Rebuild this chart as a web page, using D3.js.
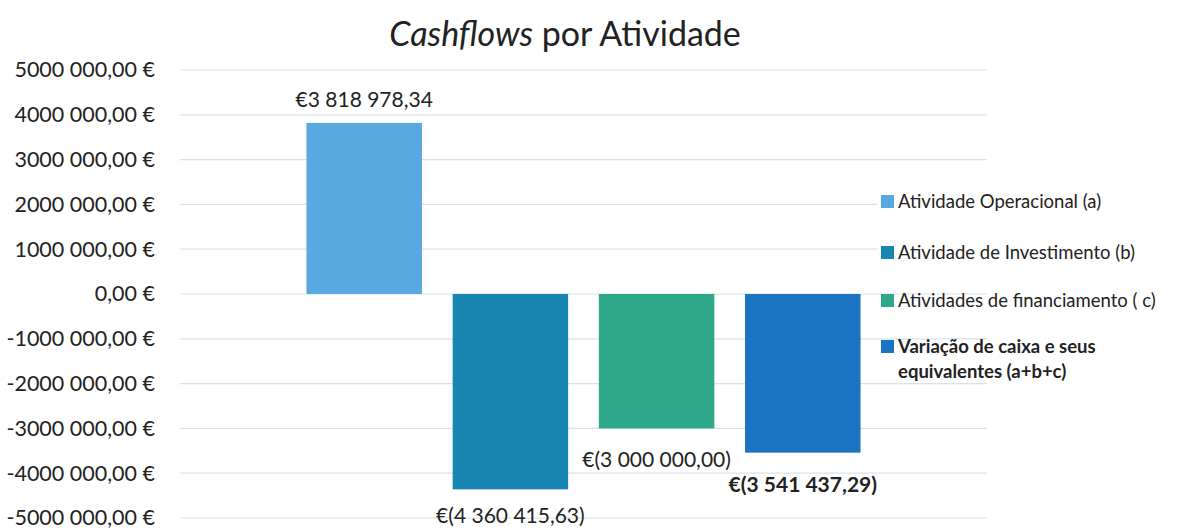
<!DOCTYPE html>
<html>
<head>
<meta charset="utf-8">
<script src="https://cdn.jsdelivr.net/npm/d3@7"></script>
<style>
  body { margin: 0; background: #fff; }
  text { font-family: Lato, "Open Sans", sans-serif; fill: #222; }
</style>
</head>
<body>
<svg id="grafico"></svg>
<script>
// dados do gráfico
const categorias = ["Cashflows"];
const series = [
  "Atividade Operacional (a)",
  "Atividade de Investimento (b)",
  "Atividades de financiamento ( c)",
  "Variação de caixa e seus equivalentes (a+b+c)"
];
const valores = [3818978.34, -4360415.63, -3000000.00, -3541437.29];
const cores = ["#58a9e1", "#1786b2", "#2ea88b", "#1a74c1"];
const ticksY = [5000000, 4000000, 3000000, 2000000, 1000000, 0, -1000000, -2000000, -3000000, -4000000, -5000000];
const rotulosY = ["5000 000,00 €", "4000 000,00 €", "3000 000,00 €", "2000 000,00 €", "1000 000,00 €", "0,00 €",
  "-1000 000,00 €", "-2000 000,00 €", "-3000 000,00 €", "-4000 000,00 €", "-5000 000,00 €"];

const largura = 1178, altura = 530;
const svg = d3.select("#grafico").attr("width", largura).attr("height", altura);

const esq = 180, dir = 987, topo = 70, base = 518;

let fnY = d3.scaleLinear().domain([-5000000, 5000000]).range([base, topo]);
let fnX0 = d3.scaleBand().domain(categorias).range([esq, dir]).paddingInner(0).paddingOuter(0.19);
let fnX1 = d3.scaleBand().domain(series).range([0, fnX0.bandwidth()]).paddingInner(0.21).paddingOuter(0.105);

const loc = d3.formatLocale({ decimal: ",", thousands: " ", grouping: [3], currency: ["€", ""] });
const fmt = loc.format(",.2f");
const rotulo = v => v < 0 ? "€(" + fmt(-v) + ")" : "€" + fmt(v);

// título
const titulo = svg.append("text")
  .attr("x", 565).attr("y", 46)
  .attr("text-anchor", "middle")
  .style("font-size", "34px");
titulo.append("tspan").style("font-style", "italic").text("Cashflows");
titulo.append("tspan").text(" por Atividade");

// grelha
svg.append("g").selectAll("line")
  .data(ticksY)
  .enter()
  .append("line")
  .attr("x1", esq).attr("x2", dir)
  .attr("y1", d => fnY(d)).attr("y2", d => fnY(d))
  .attr("stroke", "#d4e3ee").attr("stroke-width", 1.2);

// eixo Y
const eixoY = svg.append("g")
  .attr("transform", `translate(${esq - 22},0)`)
  .call(d3.axisLeft(fnY).tickValues(ticksY).tickSize(0).tickFormat((d, i) => rotulosY[i]));
eixoY.select(".domain").remove();
eixoY.selectAll("text").style("font-size", "21.5px").style("font-family", "Lato, sans-serif").attr("fill", "#222");

// barras
const grupo = svg.append("g").attr("transform", `translate(${fnX0(categorias[0])},0)`);
grupo.selectAll(".barras")
  .data(valores)
  .enter()
  .append("rect")
  .classed("barras", true)
  .attr("x", (d, i) => fnX1(series[i]))
  .attr("y", d => fnY(Math.max(0, d)))
  .attr("width", fnX1.bandwidth())
  .attr("height", d => Math.abs(fnY(d) - fnY(0)))
  .attr("fill", (d, i) => cores[i]);

grupo.selectAll(".rotulo")
  .data(valores)
  .enter()
  .append("text")
  .classed("rotulo", true)
  .text(d => rotulo(d))
  .attr("x", (d, i) => fnX1(series[i]) + fnX1.bandwidth() / 2)
  .attr("y", d => d >= 0 ? fnY(d) - 16 : Math.min(fnY(d) + 39, altura - 7))
  .attr("text-anchor", "middle")
  .style("font-size", "21px")
  .style("font-weight", (d, i) => i === 3 ? "bold" : "normal");

// legenda
svg.append("rect").attr("x", 877).attr("y", 178).attr("width", 301).attr("height", 105).attr("fill", "#fff");
const legendaY = [201, 252, 300, 346];
const leg = svg.append("g").selectAll("g")
  .data(series)
  .enter()
  .append("g")
  .attr("transform", (d, i) => `translate(881,${legendaY[i]})`);
leg.append("rect")
  .attr("x", 0).attr("y", -6).attr("width", 13).attr("height", 13)
  .attr("fill", (d, i) => cores[i]);
leg.append("text")
  .attr("x", 17).attr("y", 7)
  .style("font-size", "18.5px")
  .style("font-weight", (d, i) => i === 3 ? "bold" : "normal")
  .each(function (d, i) {
    const t = d3.select(this);
    if (i === 3) {
      t.append("tspan").attr("x", 17).text("Variação de caixa e seus");
      t.append("tspan").attr("x", 17).attr("dy", 25).text("equivalentes (a+b+c)");
    } else {
      t.text(d);
    }
  });
</script>
</body>
</html>
